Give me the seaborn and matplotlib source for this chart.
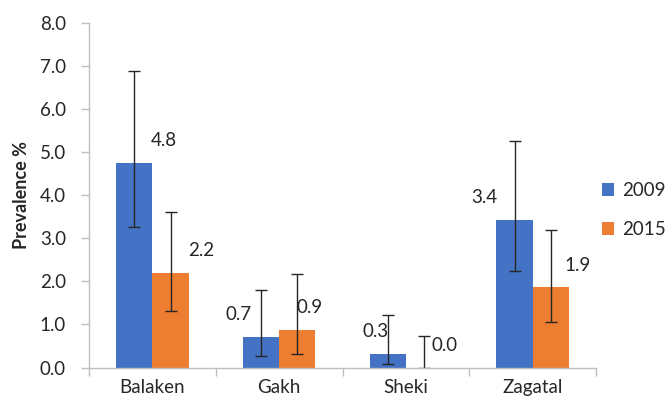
import numpy as np
import pandas as pd
import matplotlib
matplotlib.use("Agg")
import matplotlib.pyplot as plt
import seaborn as sns

# data
regions = ["Balaken", "Gakh", "Sheki", "Zagatal"]
years = ["2009", "2015"]
prev_2009 = [4.76, 0.70, 0.32, 3.43]
prev_2015 = [2.20, 0.88, 0.00, 1.86]
ci_low_2009 = [3.27, 0.27, 0.08, 2.24]
ci_high_2009 = [6.89, 1.81, 1.22, 5.27]
ci_low_2015 = [1.31, 0.32, 0.00, 1.05]
ci_high_2015 = [3.62, 2.18, 0.73, 3.19]

# manual label placement (x shift in category units), as in the original
label_dx_2009 = [0.23, -0.18, -0.10, -0.24]
label_dx_2015 = [0.245, 0.10, 0.165, 0.21]
label_dy = 0.52

colors = {"2009": "#4472C4", "2015": "#ED7D31"}
txt = "#262626"
fs = 13.5

df = pd.DataFrame({
    "region": regions * 2,
    "year": [years[0]] * 4 + [years[1]] * 4,
    "prev": prev_2009 + prev_2015,
})

sns.set_style("white")
plt.rcParams["font.family"] = ["Lato", "DejaVu Sans"]

fig = plt.figure(figsize=(6.69, 4.07), dpi=100)
ax = fig.add_axes([0.133, 0.097, 0.758, 0.8465])

sns.barplot(data=df, x="region", y="prev", hue="year", palette=colors,
            width=0.573, gap=0, errorbar=None, saturation=1, ax=ax,
            edgecolor="none")

# error bars and labels on top of seaborn's bars
series = [
    (prev_2009, ci_low_2009, ci_high_2009, label_dx_2009),
    (prev_2015, ci_low_2015, ci_high_2015, label_dx_2015),
]
for cont, (vals, lo, hi, dxs) in zip(ax.containers, series):
    for bar, v, l, h, dx in zip(cont.patches, vals, lo, hi, dxs):
        xc = bar.get_x() + bar.get_width() / 2
        ax.errorbar(xc, v, yerr=[[v - l], [h - v]], fmt="none",
                    ecolor=txt, elinewidth=1, capsize=4, capthick=1)
        ax.text(xc + dx, v + label_dy, f"{v:.1f}", ha="center", va="center",
                fontsize=fs, color=txt)

ax.set_ylim(0, 8)
ax.set_xlim(-0.5, 3.5)
ax.set_yticks(np.arange(0, 8.1, 1))
ax.set_yticklabels([f"{t:.1f}" for t in np.arange(0, 8.1, 1)])
ax.set_xticks(np.arange(-0.5, 3.6, 1), minor=True)
ax.tick_params(axis="x", which="major", length=0, pad=8, labelsize=fs,
               labelcolor=txt)
ax.tick_params(axis="x", which="minor", length=6, width=1, color="#BFBFBF",
               direction="out", bottom=True)
ax.tick_params(axis="y", length=6, width=1, color="#BFBFBF", direction="out",
               left=True, pad=10.5, labelsize=fs, labelcolor=txt)

ax.set_xlabel("")
ax.set_ylabel("Prevalence %", fontsize=13, fontweight="bold", labelpad=7,
              color=txt)

sns.despine(ax=ax)
for s in ["left", "bottom"]:
    ax.spines[s].set_color("#BFBFBF")
    ax.spines[s].set_linewidth(1)

leg = ax.legend(loc="center left", bbox_to_anchor=(1.0, 0.457), frameon=False,
                fontsize=13.5, handlelength=0.65, handleheight=0.65,
                handletextpad=0.45, labelspacing=1.15, borderaxespad=0.3,
                borderpad=0)
for t in leg.get_texts():
    t.set_color(txt)

fig.savefig("out.png", dpi=100)
